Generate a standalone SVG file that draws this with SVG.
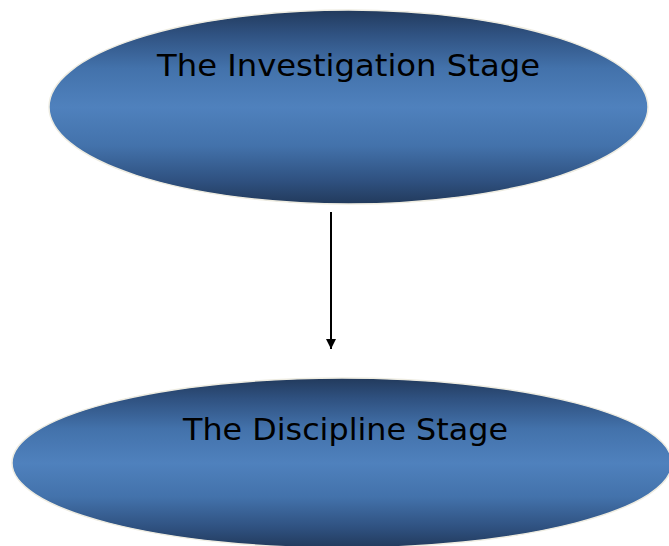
<svg xmlns="http://www.w3.org/2000/svg" width="669" height="546" viewBox="0 0 669 546">
<defs>
<linearGradient id="g" x1="0" y1="0" x2="0" y2="1">
<stop offset="0" stop-color="#223a5c"/>
<stop offset="0.12" stop-color="#2f5180"/>
<stop offset="0.3" stop-color="#4372ab"/>
<stop offset="0.5" stop-color="#4f81bd"/>
<stop offset="0.7" stop-color="#4372ab"/>
<stop offset="0.88" stop-color="#2f5180"/>
<stop offset="1" stop-color="#223a5c"/>
</linearGradient>
<marker id="ah" markerWidth="10" markerHeight="10" refX="10" refY="5" orient="auto" markerUnits="userSpaceOnUse" viewBox="0 0 10 10">
<path d="M0,0 L10,5 L0,10 Z" fill="#000"/>
</marker>
<style>
.node{fill:url(#g);stroke:#eeece1;stroke-width:1.5}
.lbl{font-family:"DejaVu Sans",Verdana,sans-serif;font-size:30px;fill:#000}
</style>
</defs>
<rect width="669" height="546" fill="#fff"/>
<g id="connectors">
<path d="M331,212 L331,349" stroke="#000" stroke-width="2" fill="none" marker-end="url(#ah)"/>
</g>
<g id="investigation">
<ellipse class="node" cx="348.5" cy="107" rx="299.5" ry="97"/>
<text class="lbl" x="157" y="76" textLength="383" lengthAdjust="spacingAndGlyphs">The Investigation Stage</text>
</g>
<g id="discipline">
<ellipse class="node" cx="342" cy="463" rx="330" ry="85"/>
<text class="lbl" x="183" y="440" textLength="325" lengthAdjust="spacingAndGlyphs">The Discipline Stage</text>
</g>
</svg>
